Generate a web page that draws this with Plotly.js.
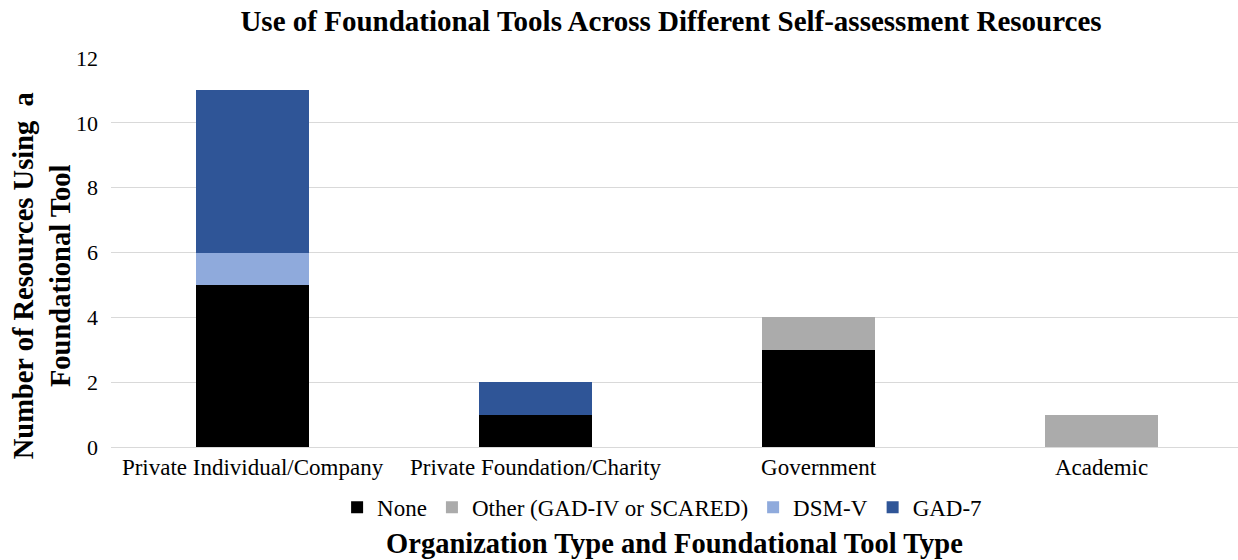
<!DOCTYPE html>
<html>
<head>
<meta charset="utf-8">
<script src="https://cdn.plot.ly/plotly-3.0.1.min.js"></script>
<style>html,body{margin:0;padding:0;background:#fff;}#chart{width:1238px;height:560px;}</style>
</head>
<body>
<div id="chart"></div>
<script>
const categories = ["Private Individual/Company", "Private Foundation/Charity", "Government", "Academic"];
const seriesNames = ["None", "Other (GAD-IV or SCARED)", "DSM-V", "GAD-7"];
const noneVals = [5, 1, 3, 0];
const otherVals = [0, 0, 1, 1];
const dsmVals = [1, 0, 0, 0];
const gadVals = [5, 1, 0, 0];
const yTicks = [0, 2, 4, 6, 8, 10, 12];

const colors = ["#000000", "#ababab", "#8faadc", "#2f5597"];
const vals = [noneVals, otherVals, dsmVals, gadVals];
const FONT = "Liberation Serif, Times New Roman, serif";

const traces = seriesNames.map((n, i) => ({
  type: "bar",
  name: n,
  x: categories,
  y: vals[i],
  marker: {color: colors[i], line: {width: 0}},
  width: 0.4,
  hoverinfo: "x+y+name"
}));

const layout = {
  width: 1238, height: 560,
  barmode: "stack",
  paper_bgcolor: "#fff", plot_bgcolor: "#fff",
  margin: {l: 111, r: 0, t: 58, b: 113},
  font: {family: FONT, color: "#000", size: 22},
  title: {text: "<b>Use of Foundational Tools Across Different Self-assessment Resources</b>",
          font: {family: FONT, size: 29, color: "#000"}, x: 0.542, xanchor: "center", y: 0.962, yanchor: "middle"},
  xaxis: {
    range: [-0.5, 3.482],
    tickfont: {family: FONT, size: 23, color: "#000"},
    showgrid: false, showline: false, ticks: "",
    ticklabelstandoff: 4,
    title: {text: "<b>Organization Type and Foundational Tool Type</b>", font: {family: FONT, size: 28.5, color: "#000"}, standoff: 54}
  },
  yaxis: {
    range: [0, 12], tickvals: yTicks, ticktext: yTicks.map(String),
    tickfont: {family: FONT, size: 22, color: "#000"},
    showgrid: true, gridcolor: "#d9d9d9", gridwidth: 1,
    zeroline: true, zerolinecolor: "#d9d9d9", zerolinewidth: 1,
    showline: false, ticks: "", ticklen: 0,
    ticklabelstandoff: 12
  },
  annotations: [{
    text: "<b>Number of Resources Using  a<br>Foundational Tool</b>",
    xref: "paper", yref: "paper", x: -0.0617, y: 0.44,
    xanchor: "center", yanchor: "middle", textangle: -90, showarrow: false,
    font: {family: FONT, size: 28.5, color: "#000"}
  }],
  showlegend: true,
  legend: {orientation: "h", x: 0.489, xanchor: "center", y: -0.155, yanchor: "middle",
           font: {family: FONT, size: 23, color: "#000"}, itemwidth: 30, tracegroupgap: 0,
           traceorder: "normal", itemclick: false},
  bargap: 0.6
};

Plotly.newPlot("chart", traces, layout, {displayModeBar: false, staticPlot: true});
</script>
</body>
</html>
